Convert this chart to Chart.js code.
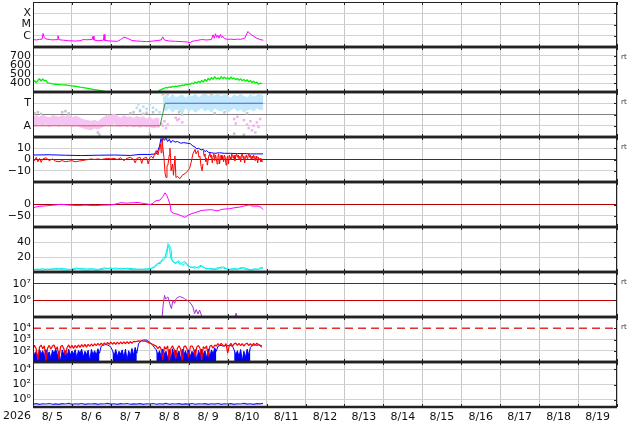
<!DOCTYPE html>
<html>
<head>
<meta charset="utf-8">
<script src="https://cdn.jsdelivr.net/npm/chart.js@4.4.1/dist/chart.umd.min.js"></script>
<style>
body{margin:0;background:#fff;width:634px;height:424px;overflow:hidden;position:relative}
canvas{position:absolute;left:0}
</style>
</head>
<body>
<script>
// times are hours since 8/5 00:00
let dayLabels = ["8/ 5","8/ 6","8/ 7","8/ 8","8/ 9","8/10","8/11","8/12","8/13","8/14","8/15","8/16","8/17","8/18","8/19"]
let yearLabel = "2026"

let xray = [[0,4.6e-7],[2,4.2e-7],[4,4.8e-7],[5.6,5e-7],[6.2,1.6e-6],[7,6.5e-7],[8,5.2e-7],[10,4.6e-7],[12,4.3e-7],[14.8,4.5e-7],[15.4,1.0e-6],[16,4.4e-7],[19,4.0e-7],[22,3.6e-7],[26,3.4e-7],[29,3.6e-7],[31,4.6e-7],[33,4.4e-7],[36.5,4.6e-7],[37,9e-7],[37.6,4.2e-7],[40,3.6e-7],[42,3.8e-7],[43.4,4.0e-7],[43.8,1.3e-6],[44.3,3.8e-7],[48,3.4e-7],[52,3.2e-7],[54,4.5e-7],[56,7.5e-7],[58,6.2e-7],[61,3.8e-7],[64,3.4e-7],[67,3.2e-7],[70,3.0e-7],[74,3.4e-7],[77,3.8e-7],[79,4.2e-7],[80,8e-7],[81,4.2e-7],[84,3.4e-7],[88,3.2e-7],[92,3.0e-7],[95,2.8e-7],[96.8,2.4e-7],[98,3.2e-7],[101,3.8e-7],[104,4.6e-7],[107,4.2e-7],[110,4.6e-7],[111,1.2e-6],[111.8,6e-7],[112.5,1.5e-6],[113.2,7e-7],[114,1.1e-6],[114.7,6e-7],[115.5,1.3e-6],[116.3,7e-7],[117,9e-7],[118,5.5e-7],[120,4.8e-7],[122,5e-7],[124,4.6e-7],[126,5e-7],[128,4.8e-7],[130.5,6e-7],[132.5,2.4e-6],[134,1.4e-6],[136,9e-7],[138,6e-7],[140,4.6e-7],[142,4.0e-7]]

// hourly solar wind speed, h 0..48 and h 76..141
let speedEarly = [410,425,405,430,448,420,445,425,430,402,398,392,390,388,386,384,383,381,380,379,378,376,373,370,368,366,364,362,358,354,351,348,345,342,339,336,333,330,327,324,321,318,315,312,308,304,300,296,290]
let speedLate = [290,305,318,326,335,342,350,347,356,352,362,358,366,361,370,366,378,372,385,380,392,386,399,390,412,396,420,404,428,410,440,418,452,430,462,440,470,445,458,440,472,448,466,445,460,440,468,444,456,436,452,430,446,424,440,418,436,412,428,404,420,398,410,386,398,392]

// sector panel: A = 1, T = 3; bands every 2 h
let sectorA = [[0,1],[78.3,1]]
let sectorTurn = [[78.3,1],[81.4,3]]
let sectorT = [[81.4,3],[141.8,3]]
let pinkTop = [1.8,1.9,1.75,1.95,1.8,1.7,1.9,1.85,1.75,1.9,1.8,1.95,1.7,1.85,1.75,1.6,1.5,1.45,1.4,1.5,1.35,1.6,1.8,1.95,1.9,2.05,1.85,1.7,1.9,1.75,1.8,1.65,1.85,1.7,1.8,1.6,1.75,1.55,1.7,1.6]
let pinkBottom = [1.1,0.95,1.15,1.0,1.2,0.9,1.1,1.05,0.95,1.15,1.0,1.1,0.9,1.05,0.95,0.85,0.75,0.7,0.65,0.8,0.7,0.85,1.0,1.15,1.05,1.2,1.0,0.95,1.1,0.9,1.05,0.9,1.0,0.85,1.0,0.9,0.95,0.8,0.9,0.85]
let blueTop = [3.5,3.7,3.4,3.8,3.5,3.6,3.75,3.45,3.7,3.55,3.85,3.5,3.7,3.9,3.6,3.8,3.65,3.9,3.55,3.8,3.6,3.45,3.75,3.55,3.85,3.6,3.5,3.8,3.55,3.7,3.85,3.6]
let blueBottom = [2.5,2.3,2.6,2.2,2.5,2.4,2.1,2.6,2.3,2.5,2.2,2.4,2.6,2.3,2.5,2.2,2.6,2.4,2.3,2.5,2.2,2.4,2.6,2.3,2.5,2.2,2.4,2.5,2.3,2.6,2.4,2.5]
let blueDots = [[64,2.6],[65,2.9],[66,2.4],[68,2.7],[70,2.5],[72,2.9],[74,2.6],[76,2.4],[78,2.2]]
let pinkDots = [[79,1.2],[80,1.0],[81,1.4],[82,0.8],[83,1.1],[88,1.7],[89,1.5],[90,1.6],[92,1.3],[124,1.6],[125,1.2],[126,1.8],[130,1.5],[132,1.1],[133,0.8],[134,1.4],[135,0.6],[136,1.0],[137,0.4],[138,1.3],[139,0.9],[140,1.6]]
let grayDots = [[1,2.1],[3,2.2],[5,2.05],[18,2.2],[20,2.3],[22,2.1],[40,0.4],[41,0.2],[60,2.1],[62,2.2],[66,2.3],[68,2.05],[70,2.15],[72,0.3],[74,2.2],[80,3.8],[81,3.9],[83,3.8],[90,2.2],[92,2.0],[106,3.9],[108,3.95],[110,3.85],[112,2.1],[116,3.9],[118,2.2],[120,3.9],[124,0.3],[130,0.2],[132,2.1],[136,3.9]]

let bt = [[0,4],[10,4.2],[20,3.8],[30,3.5],[40,3.8],[50,4],[60,3.6],[66,4.5],[72,4.5],[76,5],[77,8],[78,12],[78.9,18.5],[79.5,16],[80.1,19],[81,17],[82,19],[83,16],[84,18],[85,15],[86,17],[87.5,15.5],[89,16],[91,14.5],[93,15],[95,14.5],[97,14],[98.6,12],[99.9,11],[101,9.5],[102,10],[103.6,8.5],[105,9],[106,7],[107,8],[108,6.5],[110,6],[112,5.5],[115,6],[118,5.5],[122,5.5],[126,5.2],[130,5.3],[134,5],[138,5],[141.8,5]]
let bz = [[0,1],[1,-1],[2,2],[3,-2],[4,1],[5,-2.5],[6,0.5],[8,1.5],[10,-1],[12,0.5],[14,-1.5],[16,-2],[18,-1],[20,-2],[22,-1.5],[24,-1],[26,-2],[28,-1.5],[30,-1],[32,-0.5],[34,0],[36,0.5],[38,0],[40,0.5],[42,0],[44,0.5],[46,1],[48,0.5],[50,1],[52,0],[54,1.5],[56,-1],[58,1],[60,2],[62,0],[63,-3],[64,1],[66,2],[67,-3.5],[68,1],[70,2],[71,-4],[72,1.5],[73,3],[74,1],[75,5],[76,8],[77,4],[78,10],[78.6,14],[79,6],[79.5,18],[80.1,10],[80.7,2],[81.4,-12],[82,-16],[82.6,-6],[83.2,-4.5],[84,4],[84.4,10],[84.8,2],[85.1,-10],[86,-4],[86.6,-14],[87.5,3],[88.1,-16],[89,-15],[90.6,-17],[92,-14],[93.7,-12.5],[95.5,-10],[96.5,-8],[97.4,-3],[98.6,5],[99.9,9],[100.5,5],[101.7,8],[102.3,2],[102.9,3],[103.6,-6],[104.2,-10],[104.8,-4]]
// half-hourly from h 105
let bzLate = [8,3,5,-2,1,-5,0,4,6,2,4,-3,3,5,-1,4,1,-4,3,5,-4,2,4,0,3,-2,4,2,-5,1,3,-4,4,2,0,5,3,1,4,-1,3,5,2,4,0,3,-2,4,5,1,3,-3,2,4,1,3,5,2,4,0,3,1,4,2,-1,3,1,-3,2,0,1,-2,0,-2]

let dst = [[0,-14],[4,-8],[9.2,-5],[14,-2],[17.3,1],[21,-2],[27.7,-5],[32,-3],[38.2,-5],[43,-3],[48.1,-2],[51,2],[54.2,8],[58,6],[62,8],[64.7,9],[67,6],[69,4],[72.1,0],[74,5],[75.2,15],[78.3,20],[80,35],[81.4,52],[82.5,40],[83.2,27],[84.5,0],[85.1,-32],[87,-40],[89.4,-44],[92,-52],[93.7,-57],[95.5,-48],[98,-40],[99.9,-36],[103.6,-27],[106,-25],[109.7,-23],[112,-26],[114,-28],[116,-22],[118.4,-20],[121,-19],[124.5,-14],[127,-12],[130,-7],[132,-4],[133.8,-2],[135,-7],[138.7,-7],[140.5,-12],[141.8,-23]]

let cyanA = [[0,3],[3,4],[6,2.5],[9,4],[12,3],[15,5],[18,3],[21,2.5],[24,4],[27,5.5],[30,3],[33,2.5],[36,3],[40,2.5],[44,4],[48,5.5],[51,3.5],[54,5],[58,4],[62,3],[66,4],[70,3],[72.7,5],[75,6],[77,10],[78.5,14],[80,15],[81.4,18],[82.5,22],[83.2,38],[84,36],[85.1,30],[85.7,16],[87.5,12],[89.4,14],[90.5,10],[92.5,13],[93.7,14],[95.5,8],[97,7],[99.9,5],[102,7],[103.6,9],[105,6],[106.6,5],[109,4],[112,3],[114,4],[115.9,7],[117.5,5],[120.2,4],[122,3],[124.5,3],[126,4],[128.2,6],[130,4],[132.5,3],[134,2.5],[137,3],[139,4],[140.5,6],[141.8,5]]
let cyanB = [[0,4],[3,3],[6,4.5],[9,3],[12,4.5],[15,3.5],[18,5],[21,4],[24,3],[27,4],[30,5],[33,4],[36,4.5],[40,3.5],[44,5.5],[48,4],[51,5.5],[54,3.5],[58,5],[62,4.5],[66,3],[70,4.5],[72.7,4],[75,8],[77,12],[78.5,11],[80,18],[81.4,20],[82.5,30],[83.5,35],[84.2,30],[85,18],[86,14],[88,11],[89.4,15],[91,12],[92.5,9],[94,12],[95.5,10],[97,6],[99.9,7],[102,5],[103.6,8],[105,7],[106.6,4],[109,5],[112,4],[114,6],[115.9,5],[117.5,7],[120.2,3],[122,4],[124.5,5],[126,3],[128.2,5],[130,6],[132.5,4],[134,3],[137,4.5],[139,3],[140.5,5],[141.8,6]]

let electron = [[79.6,1e5],[80.3,6e5],[81.1,2e6],[81.8,1.2e6],[82.5,1.4e6],[83.2,1.6e6],[84.2,6.6e5],[85.3,3.2e5],[86.3,1e6],[87.3,6.6e5],[88.3,1.3e6],[90.3,1.7e6],[92,1.5e6],[93.4,1.26e6],[95,1e6],[96.4,8e5],[97.5,6e5],[98.6,4e5],[99.6,1.6e5],[100.6,2.8e5],[101.7,1.5e5],[102.7,2.6e5],[104.2,1.0e5],[104.3,null],[124.6,1e5],[125.2,1.7e5],[125.9,1e5]]

// hourly proton fluxes, red h 0..141
let protonRed = [160,300,140,15,210,320,150,280,12,170,300,140,260,320,130,220,20,240,300,150,40,
190,330,170,300,160,310,180,330,200,350,220,370,210,380,240,400,260,420,280,450,300,470,330,
500,340,560,370,580,380,540,370,580,390,600,400,620,420,640,440,660,460,680,640,
680,760,720,780,700,740,640,560,480,420,360,300,
260,150,250,140,15,230,140,270,12,160,280,130,20,170,280,140,12,230,270,140,25,240,280,150,30,220,290,160,15,240,150,280,30,250,300,170,320,
260,440,280,460,310,250,430,60,290,460,260,410,480,300,450,280,430,260,400,470,290,430,270,450,310,470,340,300,200]
// blue: noisy stretches (filled) and quiet stretches, hourly with start hour
let blueW1 = [120,40,90,25,140,50,100,30,130,45,80,20,110,55,150,35,90,11,120,48,100,30,140,40,95,52,125,22,105,60,135,28,90,45,110,12,130,45,100,38,150,60]
let blueQ1 = [60,250,300,330,360,320,280,200,110]
let blueW2 = [110,35,130,30,90,50,120,25,140,14,100,35,160,40,200,60]
let blueQ2 = [60,400,600,780,880,900,850,720,560,400,280,180,120]
let blueW3 = [120,44,100,28,140,52,90,20,130,11,150,35,110,50,95,18,140,45,100,30,120,30,90,55,130,12,105,40,140,46,100,22,150,25,120,50,180,90]
let blueQ3 = [90,250,280,300,260,290,310,270,300,280,240,120]
let blueW4 = [120,45,100,30,130,12,90,25,140,40,200]
let blueQ4 = [200,280,320,330,300,340,310,290]
let protonLimit = [[0,1e4],[360,1e4]]

let lowFlux = [[0,0.24],[2,0.28],[4,0.22],[6,0.27],[8,0.25],[10,0.29],[12,0.23],[14,0.26],[16,0.22],[18,0.28],[20,0.25],[22,0.3],[24,0.23],[26,0.27],[28,0.24],[30,0.29],[32,0.22],[34,0.26],[36,0.25],[38,0.28],[40,0.23],[42,0.27],[44,0.25],[46,0.3],[48,0.24],[50,0.27],[52,0.22],[54,0.28],[56,0.25],[58,0.29],[60,0.23],[62,0.26],[64,0.24],[66,0.28],[68,0.22],[70,0.27],[72,0.25],[74,0.29],[76,0.23],[78,0.27],[80,0.24],[82,0.3],[84,0.23],[86,0.27],[88,0.25],[90,0.28],[92,0.22],[94,0.26],[96,0.24],[98,0.29],[100,0.23],[102,0.27],[104,0.25],[106,0.28],[108,0.23],[110,0.27],[112,0.24],[114,0.29],[116,0.22],[118,0.27],[120,0.25],[122,0.28],[124,0.23],[126,0.27],[128,0.25],[130,0.3],[132,0.24],[134,0.27],[136,0.23],[138,0.28],[140,0.26],[141.8,0.3]]

Chart.defaults.font.family = "DejaVu Sans"

let FONT = {family:"DejaVu Sans", size:11}
let PANEL_H = 45
let PAD = 4
let GRID = "#d2d2d2"

function pts(a){
return a.map(p => ({x:p[0], y:p[1]}))
}

function series(vals, start, step){
return vals.map((v, k) => [start + k * step, v])
}

function line(a, color, w){
return {data:pts(a), borderColor:color, borderWidth:w||1, pointRadius:0, tension:0, borderJoinStyle:"bevel", fill:false}
}

function dots(a, color, r){
return {data:pts(a), showLine:false, pointStyle:"rect", pointRadius:r||1.6, backgroundColor:color, borderWidth:0}
}

function filled(a, color, target){
let d = line(a, color)
d.fill = target || "start"
d.backgroundColor = color
return d
}

let frame = {
id:"frame",
afterDraw(chart, args, o){
let a = chart.chartArea
let g = chart.ctx
g.save()
g.strokeStyle = "#222"
g.lineWidth = 1
g.beginPath()
chart.scales.y.ticks.forEach(t => {
let y = Math.round(chart.scales.y.getPixelForValue(t.value)) + 0.5
g.moveTo(a.right - 3, y)
g.lineTo(a.right, y)
})
chart.scales.x.ticks.forEach(t => {
if(t.value % 24) return
let x = Math.round(chart.scales.x.getPixelForValue(t.value)) + 0.5
g.moveTo(x, a.top)
g.lineTo(x, a.top + 3)
g.moveTo(x, a.bottom)
g.lineTo(x, a.bottom - 3)
})
g.moveTo(a.left + 0.5, a.top)
g.lineTo(a.left + 0.5, a.bottom)
g.moveTo(a.right - 0.5, a.top)
g.lineTo(a.right - 0.5, a.bottom)
if(o.first){
g.moveTo(a.left, a.top + 0.5)
g.lineTo(a.right, a.top + 0.5)
}
g.stroke()

g.lineWidth = 2.5
g.beginPath()
g.moveTo(a.left, a.bottom)
g.lineTo(a.right, a.bottom)
if(!o.first){
g.moveTo(a.left, a.top)
g.lineTo(a.right, a.top)
}
g.stroke()

if(o.rt){
g.fillStyle = "#333"
g.font = "7px DejaVu Sans"
g.textBaseline = "middle"
g.textAlign = "left"
g.fillText("rt", a.right + 4, a.top + 10)
}
if(o.year){
g.fillStyle = "#111"
g.font = "11px DejaVu Sans"
g.textBaseline = "top"
g.textAlign = "right"
g.fillText(yearLabel, 31, a.bottom + 4)
}
g.restore()
}
}

function panel(i, y, datasets, opts){
let last = i == 8
let c = document.createElement("canvas")
c.width = 634
c.height = PANEL_H + PAD * 2 + (last ? 13 : 0)
c.style.top = (2 + PANEL_H * i - PAD) + "px"
document.body.appendChild(c)

new Chart(c, {
type:"line",
data:{datasets:datasets},
options:{
responsive:false,
animation:false,
devicePixelRatio:1,
layout:{padding:{left:0, right:17, top:PAD, bottom:last ? 0 : PAD}},
plugins:{legend:{display:false}, tooltip:{enabled:false}, frame:{first:i == 0, rt:!!opts.rt, year:last}},
elements:{line:{tension:0}, point:{radius:0}},
scales:{
x:{
type:"linear", min:0, max:360,
afterFit: s => { s.height = last ? 17 : 0; s.paddingLeft = 0; s.paddingRight = 0 },
ticks:{display:last, stepSize:12, autoSkip:false, maxRotation:0, padding:4, font:FONT, color:"#111",
callback: v => v % 24 == 12 ? dayLabels[(v - 12) / 24] : ""},
grid:{drawTicks:false, color: ctx => ctx.tick && ctx.tick.value % 24 == 0 ? "#c8c8c8" : "rgba(0,0,0,0)"},
border:{display:false}
},
y:{
type:y.type || "linear", min:y.min, max:y.max,
afterBuildTicks: s => { s.ticks = y.ticks.map(v => ({value:v})) },
afterFit: s => { s.width = 33; s.paddingTop = 0; s.paddingBottom = 0 },
ticks:{font:FONT, color:"#111", padding:2, autoSkip:false, callback:(v, k) => y.labels[k]},
grid:{drawTicks:false, color: ctx => (y.colors && y.colors[ctx.index]) || GRID},
border:{display:false}
}
}
},
plugins:[frame]
})
}

panel(0, {type:"logarithmic", min:1e-7, max:1e-3, ticks:[1e-6,1e-5,1e-4], labels:["C","M","X"]},
[line(xray, "#ff00ff")], {})

panel(1, {min:300, max:800, ticks:[400,500,600,700], labels:["400","500","600","700"]},
[line(series(speedEarly, 0, 1), "#00f000", 1.3), line(series(speedLate, 76, 1), "#00f000", 1.3)], {rt:true})

panel(2, {min:0, max:4, ticks:[1,2,3], labels:["A","","T"], colors:[GRID,"#808080",GRID]},
[line(sectorA, "#e05050"), line(sectorTurn, "#3a9a3a"), line(sectorT, "#4a5ce8"),
dots(grayDots, "#c4c4c4", 1.8), dots(pinkDots, "#f2b2ee", 1.8), dots(blueDots, "#b2e2fa", 1.8),
line(series(blueTop, 80, 2), "#c2e8fb"), filled(series(blueBottom, 80, 2), "#c2e8fb", "-1"),
line(series(pinkTop, 0, 2), "#f6c4f3"), filled(series(pinkBottom, 0, 2), "#f6c4f3", "-1")], {rt:true})

panel(3, {min:-20, max:20, ticks:[-10,0,10], labels:["\u221210","0","10"], colors:[GRID,"#b00000",GRID]},
[line(bz, "#ff0000"), line(series(bzLate, 105, 0.5), "#ff0000"), line(bt, "#0000ff")], {rt:true})

panel(4, {min:-100, max:100, ticks:[-50,0], labels:["\u221250","0"], colors:[GRID,"#b00000"]},
[line(dst, "#ff00ff")], {})

panel(5, {min:0, max:60, ticks:[20,40], labels:["20","40"]},
[line(cyanA, "#00eeee"), line(cyanB, "#00eeee")], {})

panel(6, {type:"logarithmic", min:1e5, max:5e7, ticks:[1e6,1e7], labels:["10\u2076","10\u2077"], colors:["#c00000","#c00000"]},
[line(electron, "#a030d0")], {rt:true})

let limit = line(protonLimit, "#e03030", 1.5)
limit.borderDash = [8, 5]
panel(7, {type:"logarithmic", min:10, max:1e5, ticks:[1e2,1e3,1e4], labels:["10\u00b2","10\u00b3","10\u2074"], colors:[GRID,GRID,"rgba(0,0,0,0)"]},
[limit, line(series(protonRed, 0, 1), "#ff0000", 1.2),
line(series(blueQ1, 41, 1), "#0000ff"), line(series(blueQ2, 64, 1), "#0000ff"),
line(series(blueQ3, 113, 1), "#0000ff"), line(series(blueQ4, 134, 1), "#0000ff"),
filled(series(blueW1, 0, 1), "#0000ff"), filled(series(blueW2, 49, 1), "#0000ff"),
filled(series(blueW3, 76, 1), "#0000ff"), filled(series(blueW4, 124, 1), "#0000ff")], {rt:true})

panel(8, {type:"logarithmic", min:0.1, max:1e5, ticks:[1,1e2,1e4], labels:["10\u2070","10\u00b2","10\u2074"]},
[line(lowFlux, "#2020ff", 1.2)], {})
</script>
</body>
</html>
